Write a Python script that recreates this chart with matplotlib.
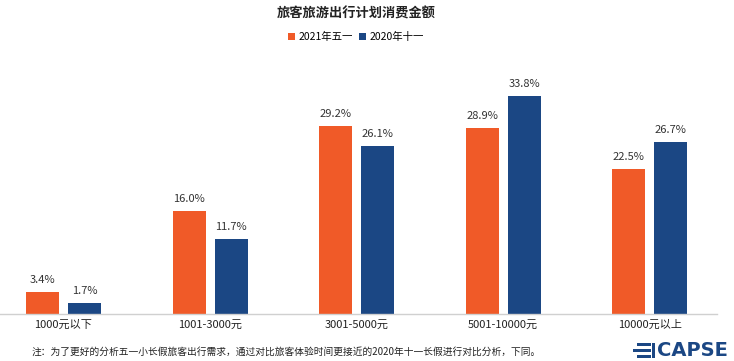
import numpy as np
import matplotlib
matplotlib.use('Agg')
import matplotlib.pyplot as plt
from matplotlib.patches import Rectangle

plt.rcParams['font.family'] = ['Noto Sans CJK SC', 'DejaVu Sans']

categories = ['1000元以下', '1001-3000元', '3001-5000元', '5001-10000元', '10000元以上']
may_2021 = [3.4, 16.0, 29.2, 28.9, 22.5]
oct_2020 = [1.7, 11.7, 26.1, 33.8, 26.7]
series_names = ['2021年五一', '2020年十一']
title = '旅客旅游出行计划消费金额'
note = '注：为了更好的分析五一小长假旅客出行需求，通过对比旅客体验时间更接近的2020年十一长假进行对比分析，下同。'

orange = '#F05A28'
blue = '#1B4784'

fig = plt.figure(figsize=(7.34, 3.61), dpi=100)
ax = fig.add_axes([0, 47 / 361, 717 / 734, 254 / 361])

x = np.arange(len(categories))
w = 0.225
off = 0.143
b1 = ax.bar(x - off, may_2021, w, color=orange, label=series_names[0])
b2 = ax.bar(x + off, oct_2020, w, color=blue, label=series_names[1])

for bars, vals in ((b1, may_2021), (b2, oct_2020)):
    for r, v in zip(bars, vals):
        ax.annotate('%.1f%%' % v, (r.get_x() + r.get_width() / 2, r.get_height()),
                    xytext=(0, 5), textcoords='offset points',
                    ha='center', va='bottom', fontsize=8, color='#333333')

ax.set_xlim(-0.433, 4.458)
ax.set_ylim(0, 39.4)
ax.set_xticks(x)
ax.set_xticklabels(categories, fontsize=8, color='#222222')
ax.tick_params(axis='x', length=0, pad=4)
ax.set_yticks([])
for s in ['top', 'right', 'left']:
    ax.spines[s].set_visible(False)
ax.spines['bottom'].set_color('#D0D0D0')
ax.spines['bottom'].set_linewidth(1)

fig.text(0.485, 1 - 14 / 361, title, ha='center', va='center',
         fontsize=9.5, fontweight='bold', color='#222222')
fig.legend(handles=[b1, b2], labels=series_names, loc='center',
           bbox_to_anchor=(0.485, 1 - 37 / 361), ncol=2, frameon=False,
           fontsize=7.5, handlelength=0.7, handleheight=0.7, handletextpad=0.3,
           columnspacing=0.6)

fig.text(32 / 734, 1 - 352 / 361, note, ha='left', va='center',
         fontsize=7, color='#222222')

# CAPSE logo
for yy, x0, x1 in ((344, 637, 651), (350, 633, 651), (356, 637, 651)):
    fig.add_artist(Rectangle((x0 / 734, 1 - (yy + 1.5) / 361), (x1 - x0) / 734, 3 / 361,
                             transform=fig.transFigure, color=blue, lw=0))
fig.add_artist(Rectangle((652 / 734, 1 - 358 / 361), 3 / 734, 15 / 361,
                         transform=fig.transFigure, color=blue, lw=0))
fig.text(657 / 734, 1 - 351 / 361, 'CAPSE', ha='left', va='center',
         fontsize=14, fontweight='bold', color=blue, family='DejaVu Sans')

fig.savefig('out.png', dpi=100)
